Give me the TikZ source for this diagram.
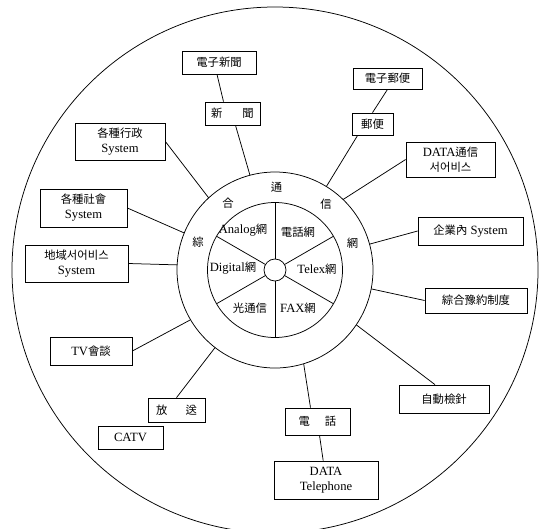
\documentclass[tikz,border=0pt]{standalone}
\usepackage{fontspec}
\setmainfont{Liberation Serif}
\newfontfamily\cjkf[Scale=0.9]{Noto Sans CJK KR}
\newcommand\CJ[1]{{\cjkf #1}}
\usetikzlibrary{calc}
\begin{document}
\begin{tikzpicture}[x=1pt,y=-1pt,line width=0.75pt,
  bx/.style={draw,rectangle,inner sep=0pt,align=center,font=\fontsize{12.6}{15}\selectfont},
  lab/.style={inner sep=0pt,font=\fontsize{12.6}{15}\selectfont}]
\useasboundingbox (0,0) rectangle (545,528);
\clip (0,0) rectangle (545,528);
\coordinate (c) at (275,270);
% circles
\draw (c) circle[radius=263pt];
\draw (c) circle[radius=98pt];
\draw (c) circle[radius=67.5pt];
\draw (c) circle[radius=11pt];
\foreach \a in {90,30,-30,-90,150,210}
  \draw ($(c)+(\a:11pt)$) -- ($(c)+(\a:67.5pt)$);
% wheel labels
\node[lab] (w1) at (243,230) {Analog\CJ{網}};
\node[lab] (w2) at (298,232) {\CJ{電話網}};
\node[lab] (w3) at (317,269) {Telex\CJ{網}};
\node[lab] (w4) at (298,308) {FAX\CJ{網}};
\node[lab] (w5) at (250,308) {\CJ{光通信}};
\node[lab] (w6) at (233,268) {Digital\CJ{網}};
% ring labels
\node[lab] (g1) at ($(c)+(160:82pt)$) {\CJ{綜}};
\node[lab] (g2) at ($(c)+(125:82pt)$) {\CJ{合}};
\node[lab] (g3) at ($(c)+(89:83pt)$) {\CJ{通}};
\node[lab] (g4) at ($(c)+(52:83pt)$) {\CJ{信}};
\node[lab] (g5) at ($(c)+(19:82pt)$) {\CJ{網}};
% ring coordinates
\coordinate (r-sm) at ($(c)+(104.8:98pt)$);
\coordinate (r-yb) at ($(c)+(58.4:98pt)$);
\coordinate (r-dt) at ($(c)+(46:98pt)$);
\coordinate (r-qy) at ($(c)+(15.3:98pt)$);
\coordinate (r-zh) at ($(c)+(-11.1:98pt)$);
\coordinate (r-zd) at ($(c)+(-34:98pt)$);
\coordinate (r-dh) at ($(c)+(-73:98pt)$);
\coordinate (r-fs) at ($(c)+(-127.7:98pt)$);
\coordinate (r-tv) at ($(c)+(-149.5:98pt)$);
\coordinate (r-dy) at ($(c)+(177:98pt)$);
\coordinate (r-gs) at ($(c)+(157.8:98pt)$);
\coordinate (r-gx) at ($(c)+(132.6:98pt)$);
% boxes
\node[bx,minimum width=74pt,minimum height=23pt] (dzsm) at (219,62.5) {\CJ{電子新聞}};
\node[bx,minimum width=55pt,minimum height=23pt] (sm) at (232.5,113.5) {\CJ{新\hspace{20pt}聞}};
\node[bx,minimum width=69pt,minimum height=21pt] (dzyb) at (387.5,78.5) {\CJ{電子郵便}};
\node[bx,minimum width=41pt,minimum height=22pt] (yb) at (372.5,124) {\CJ{郵便}};
\node[bx,minimum width=89pt,minimum height=35pt] (dt) at (450.5,159.5) {DATA\CJ{通信}\\\CJ{서어비스}};
\node[bx,minimum width=105pt,minimum height=28pt] (qy) at (470.5,231) {\CJ{企業內} System};
\node[bx,minimum width=102pt,minimum height=25pt] (zh) at (476,300.5) {\CJ{綜合豫約制度}};
\node[bx,minimum width=90pt,minimum height=28pt] (zd) at (444,399) {\CJ{自動檢針}};
\node[bx,minimum width=104pt,minimum height=38pt] (dtel) at (326,480) {DATA\\Telephone};
\node[bx,minimum width=65pt,minimum height=27pt] (dh) at (317.5,421.5) {\CJ{電\hspace{15pt}話}};
\node[bx,minimum width=65pt,minimum height=23pt] (catv) at (130.5,437.5) {CATV};
\node[bx,minimum width=57pt,minimum height=24pt] (fs) at (176.5,410) {\CJ{放\hspace{18pt}送}};
\node[bx,minimum width=82pt,minimum height=28pt] (tv) at (91,351) {TV\CJ{會談}};
\node[bx,minimum width=103pt,minimum height=37pt] (dy) at (76.5,263.5) {\CJ{地域서어비스}\\System};
\node[bx,minimum width=87pt,minimum height=38pt] (gs) at (83.5,208) {\CJ{各種社會}\\System};
\node[bx,minimum width=90pt,minimum height=37pt] (gx) at (120,141.5) {\CJ{各種行政}\\System};
% connectors
\draw ($(dzsm.south)+(-2,0)$) -- ($(sm.north)+(-9,0)$);
\draw ($(sm.south)+(3,0)$) -- (r-sm);
\draw (dzyb.south) -- (yb.north);
\draw ($(yb.south west)+(6,0)$) -- (r-yb);
\draw (dt.west) -- (r-dt);
\draw (qy.west) -- (r-qy);
\draw (zh.west) -- (r-zh);
\draw ($(zd.north)+(-9,0)$) -- (r-zd);
\draw ($(dh.north)+(-7,0)$) -- (r-dh);
\draw (dh) -- (dtel);
\draw (fs.north) -- (r-fs);
\draw (tv.east) -- (r-tv);
\draw (dy.east) -- (r-dy);
\draw (gs.east) -- (r-gs);
\draw (gx.east) -- (r-gx);
\end{tikzpicture}
\end{document}
